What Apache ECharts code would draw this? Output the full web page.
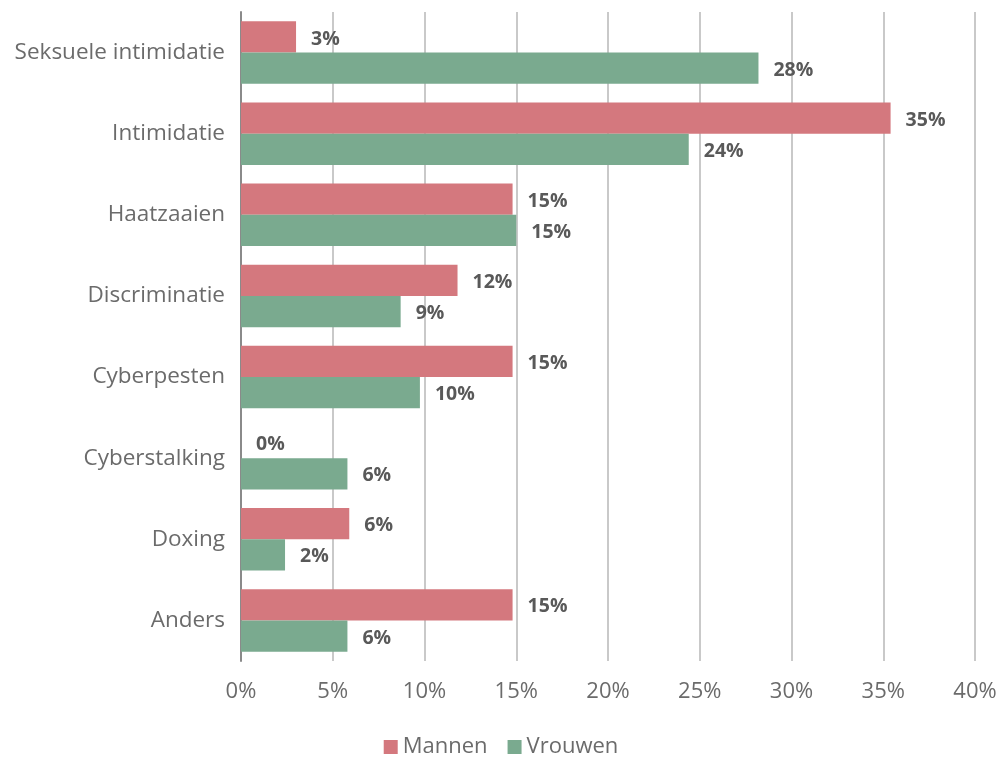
<!DOCTYPE html>
<html>
<head>
<meta charset="utf-8">
<script src="https://cdn.jsdelivr.net/npm/echarts@6/dist/echarts.min.js"></script>
<style>
  html, body { margin: 0; padding: 0; background: #ffffff; }
  #chart { width: 1002px; height: 758px; }
</style>
</head>
<body>
<div id="chart"></div>
<script>
// Soorten online intimidatie, aandeel per geslacht (%)
const categories = ['Seksuele intimidatie', 'Intimidatie', 'Haatzaaien', 'Discriminatie',
                    'Cyberpesten', 'Cyberstalking', 'Doxing', 'Anders'];
const mannen  = [3.0, 35.4, 14.8, 11.8, 14.8, 0, 5.9, 14.8];
const vrouwen = [28.2, 24.4, 15.0, 8.7, 9.75, 5.8, 2.4, 5.8];
const seriesNames = ['Mannen', 'Vrouwen'];
const seriesColors = ['#d4787e', '#7aaa8f'];

const FONT = '"Open Sans", "Noto Sans", sans-serif';
const chart = echarts.init(document.getElementById('chart'), null, { renderer: 'canvas' });

function barSeries(name, values, color) {
  return {
    name: name,
    type: 'bar',
    data: values,
    barGap: '0%',
    barCategoryGap: '23%',
    itemStyle: { color: color },
    label: {
      show: true,
      position: 'right',
      distance: 15,
      offset: [0, 2],
      formatter: p => Math.round(p.value) + '%',
      color: '#595959',
      fontFamily: FONT,
      fontWeight: 'bold',
      fontSize: 19.5
    }
  };
}

chart.setOption({
  animation: false,
  grid: { left: 241, right: 27, top: 12, bottom: 97, containLabel: false },
  legend: {
    top: 731,
    left: 'center',
    itemWidth: 14,
    itemHeight: 14,
    itemGap: 20,
    icon: 'rect',
    textStyle: { color: '#6b6b6b', fontFamily: FONT, fontSize: 22 },
    data: seriesNames
  },
  xAxis: {
    type: 'value',
    min: 0,
    max: 40,
    interval: 5,
    axisLine: { show: false },
    axisTick: { show: false },
    splitLine: { lineStyle: { color: '#c9c9c9', width: 2 } },
    axisLabel: {
      formatter: v => v + '%',
      color: '#6b6b6b',
      fontFamily: FONT,
      fontSize: 22,
      margin: 20
    }
  },
  yAxis: {
    type: 'category',
    inverse: true,
    data: categories,
    axisLine: { show: true, lineStyle: { color: '#8a8a8a', width: 2 } },
    axisTick: { show: false },
    axisLabel: {
      color: '#6b6b6b',
      fontFamily: FONT,
      fontSize: 22.5,
      margin: 16
    }
  },
  series: [
    barSeries(seriesNames[0], mannen, seriesColors[0]),
    barSeries(seriesNames[1], vrouwen, seriesColors[1])
  ]
});
</script>
</body>
</html>
